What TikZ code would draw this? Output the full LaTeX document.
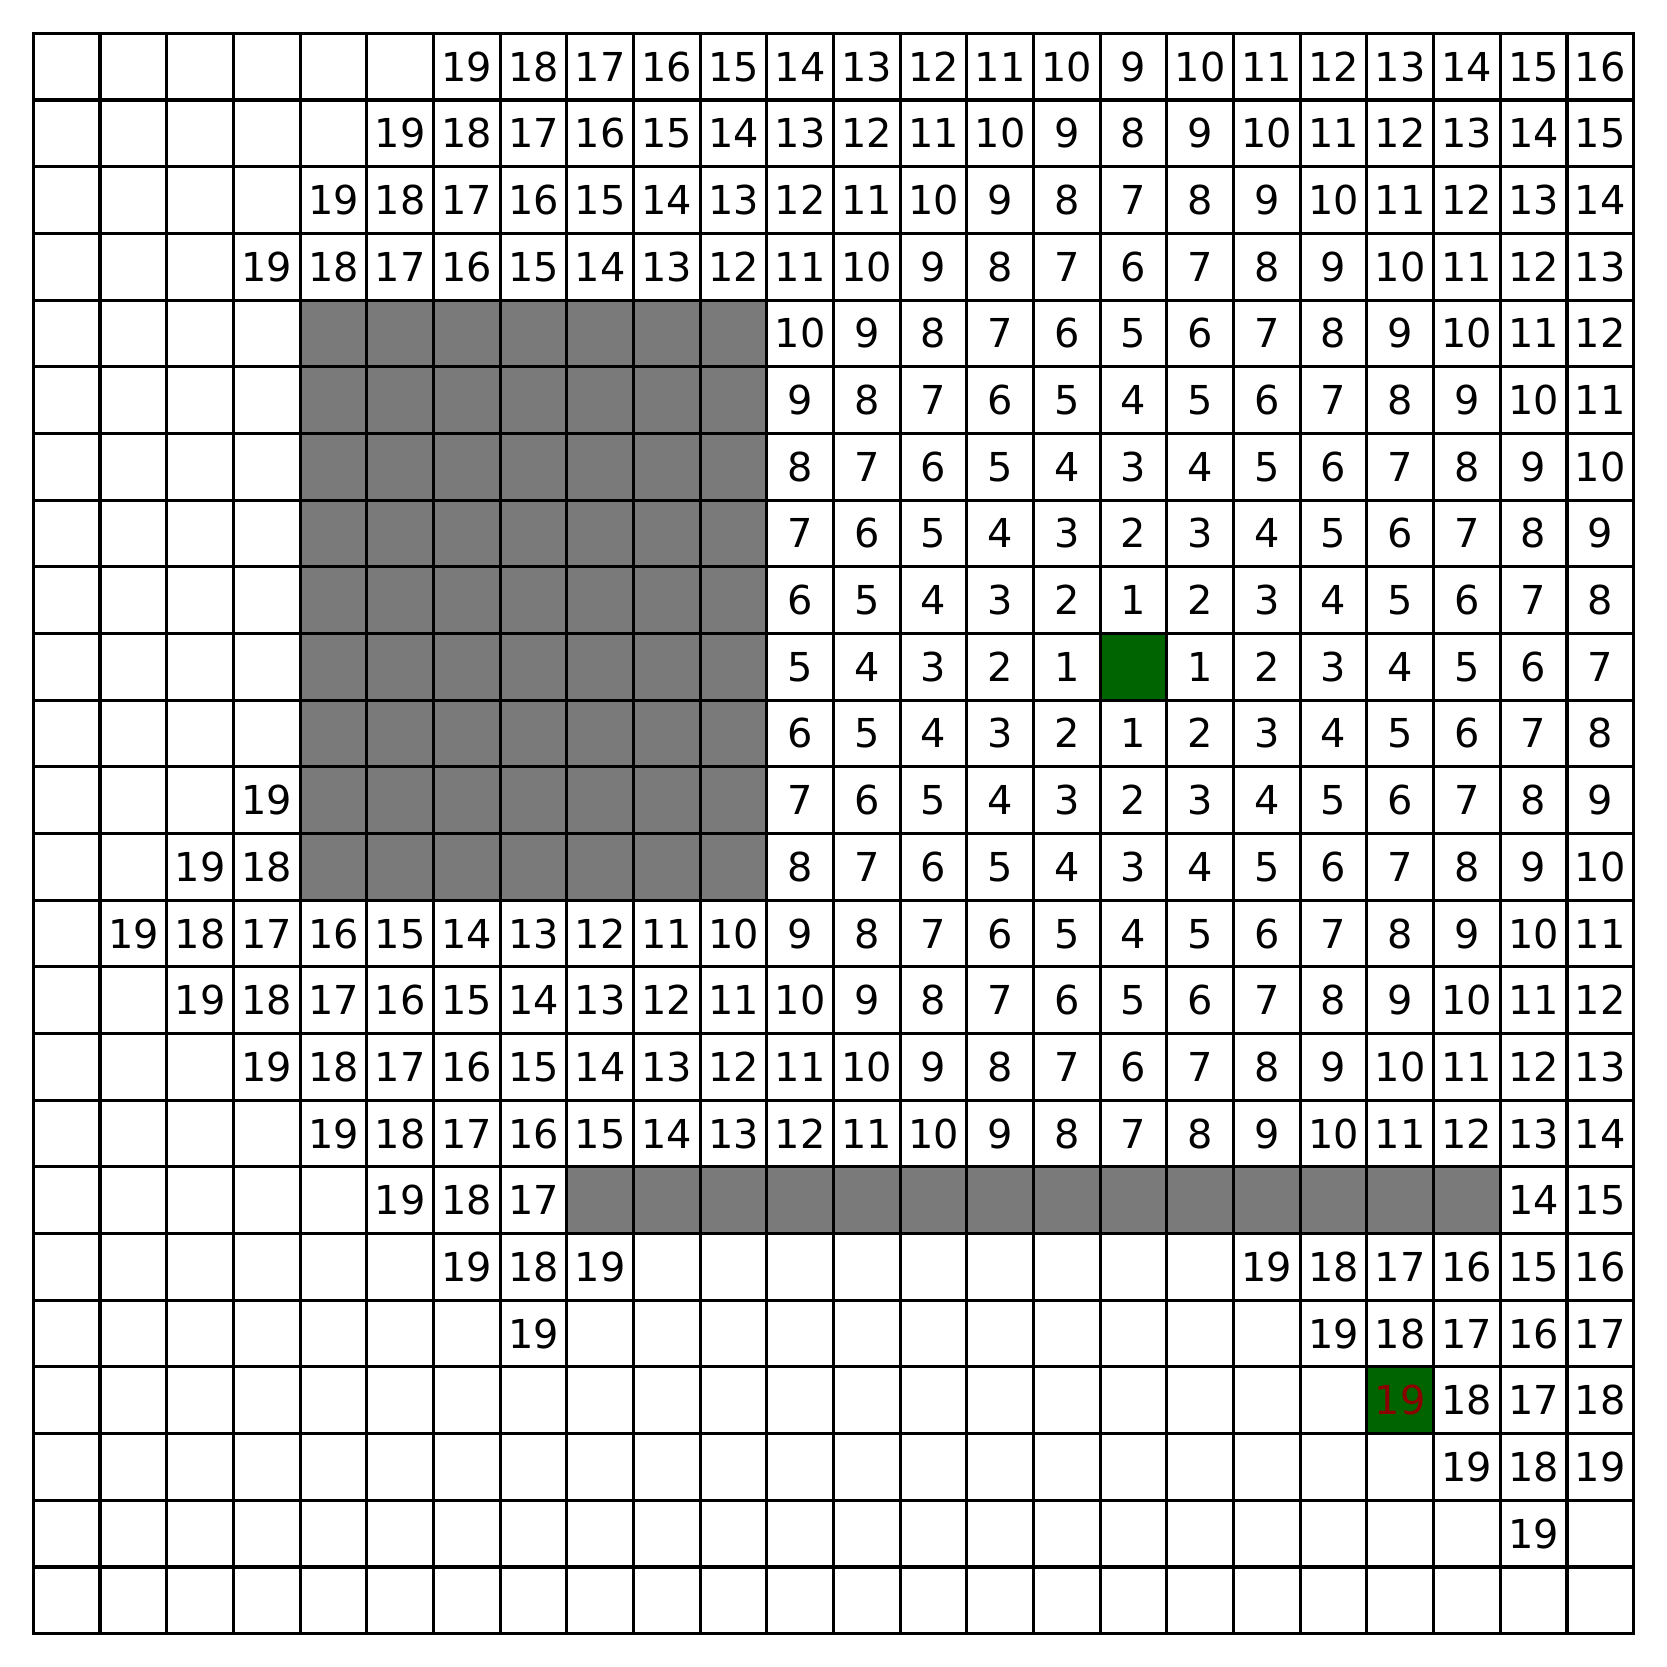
\documentclass[tikz,border=0pt]{standalone}
\usepackage{fontspec}
\setmainfont{DejaVu Sans}
\usepackage{tikz}
\definecolor{wallgray}{HTML}{7A7A7A}
\definecolor{startgreen}{HTML}{006400}
\definecolor{goalred}{HTML}{8B0000}

\begin{document}
\begin{tikzpicture}[
  font=\fontsize{17}{20}\selectfont,
  wall/.style={fill=wallgray},
  goal/.style={fill=startgreen},
  dist/.style={inner sep=0pt, text height=12.4pt, text depth=0pt, anchor=center},
  gridline/.style={line width=1.3pt, line cap=rect}
]
  \useasboundingbox (-0.5,-0.5) rectangle (24.5,24.5);
  % obstacles
  \fill[wall] (4,11) rectangle (11,20);
  \fill[wall] (8,6) rectangle (22,7);
  % start and goal cells
  \fill[goal] (16,14) rectangle (17,15);
  \fill[goal] (20,3) rectangle (21,4);
  \draw[gridline] (0,0) grid (24,24);
  % distances: row / first column / values
  \foreach \r/\c/\vals in {
    0/6/{19,18,17,16,15,14,13,12,11,10,9,10,11,12,13,14,15,16},
    1/5/{19,18,17,16,15,14,13,12,11,10,9,8,9,10,11,12,13,14,15},
    2/4/{19,18,17,16,15,14,13,12,11,10,9,8,7,8,9,10,11,12,13,14},
    3/3/{19,18,17,16,15,14,13,12,11,10,9,8,7,6,7,8,9,10,11,12,13},
    4/11/{10,9,8,7,6,5,6,7,8,9,10,11,12},
    5/11/{9,8,7,6,5,4,5,6,7,8,9,10,11},
    6/11/{8,7,6,5,4,3,4,5,6,7,8,9,10},
    7/11/{7,6,5,4,3,2,3,4,5,6,7,8,9},
    8/11/{6,5,4,3,2,1,2,3,4,5,6,7,8},
    9/11/{5,4,3,2,1},
    9/17/{1,2,3,4,5,6,7},
    10/11/{6,5,4,3,2,1,2,3,4,5,6,7,8},
    11/3/{19},
    11/11/{7,6,5,4,3,2,3,4,5,6,7,8,9},
    12/2/{19,18},
    12/11/{8,7,6,5,4,3,4,5,6,7,8,9,10},
    13/1/{19,18,17,16,15,14,13,12,11,10,9,8,7,6,5,4,5,6,7,8,9,10,11},
    14/2/{19,18,17,16,15,14,13,12,11,10,9,8,7,6,5,6,7,8,9,10,11,12},
    15/3/{19,18,17,16,15,14,13,12,11,10,9,8,7,6,7,8,9,10,11,12,13},
    16/4/{19,18,17,16,15,14,13,12,11,10,9,8,7,8,9,10,11,12,13,14},
    17/5/{19,18,17},
    17/22/{14,15},
    18/6/{19,18,19},
    18/18/{19,18,17,16,15,16},
    19/7/{19},
    19/19/{19,18,17,16,17},
    20/21/{18,17,18},
    21/21/{19,18,19},
    22/22/{19}}{
    \foreach \v [count=\i from 0] in \vals {
      \pgfmathtruncatemacro{\col}{\c+\i}
      \node[dist] (d-\r-\col) at (\col+0.5, 23.5-\r) {\v};
    }
  }
  \node[dist, text=goalred] (goal) at (20.5, 3.5) {19};
\end{tikzpicture}
\end{document}
